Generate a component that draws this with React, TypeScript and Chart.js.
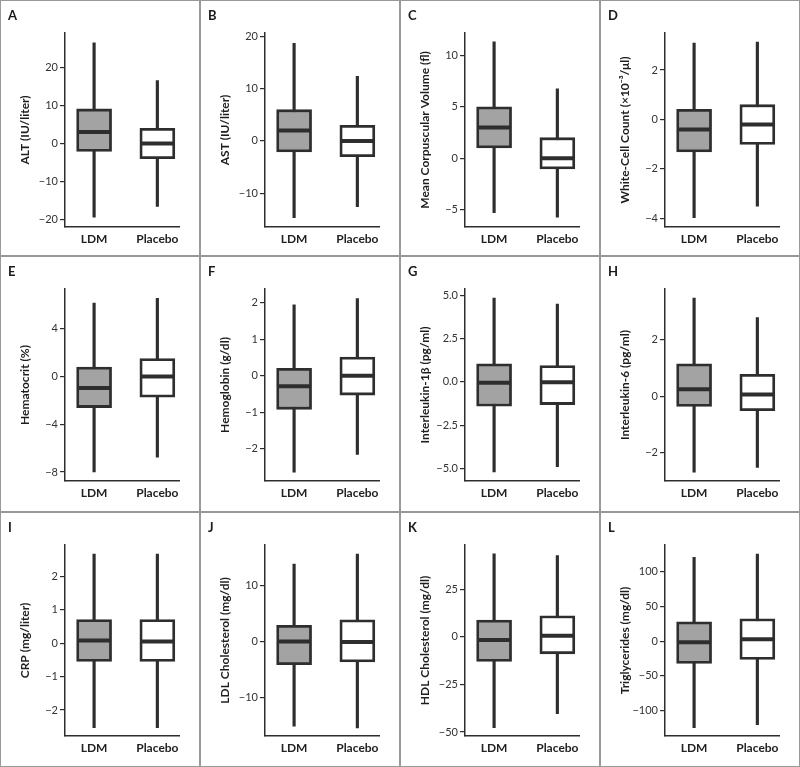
import React, { useEffect, useRef } from "react";
import { Chart, registerables } from "chart.js";

Chart.register(...registerables);

const FONT = "Lato, 'Open Sans', 'DejaVu Sans', sans-serif";
Chart.defaults.font.family = FONT;

const groups = ["LDM", "Placebo"];
const letters = ["A", "B", "C", "D", "E", "F", "G", "H", "I", "J", "K", "L"];
const yTitles = [
  "ALT (IU/liter)",
  "AST (IU/liter)",
  "Mean Corpuscular Volume (fl)",
  "White-Cell Count (×10⁻³/μl)",
  "Hematocrit (%)",
  "Hemoglobin (g/dl)",
  "Interleukin-1β (pg/ml)",
  "Interleukin-6 (pg/ml)",
  "CRP (mg/liter)",
  "LDL Cholesterol (mg/dl)",
  "HDL Cholesterol (mg/dl)",
  "Triglycerides (mg/dl)",
];

// LDM box-plot statistics, one value per panel (A..L)
const ldmMin = [-19.4, -14.7, -5.3, -3.97, -8.0, -2.64, -5.21, -2.69, -2.53, -15.05, -47.7, -124.5];
const ldmQ1 = [-2.1, -2.1, 1.0, -1.31, -2.6, -0.92, -1.41, -0.36, -0.55, -4.06, -13.0, -32.2];
const ldmMedian = [3.0, 2.0, 3.0, -0.4, -0.97, -0.29, -0.05, 0.25, 0.08, 0.05, -1.75, -1.5];
const ldmQ3 = [9.1, 6.0, 5.0, 0.41, 0.79, 0.2, 1.04, 1.15, 0.71, 2.95, 8.8, 27.8];
const ldmMax = [26.5, 18.7, 11.35, 3.09, 6.16, 1.94, 4.85, 3.48, 2.67, 13.9, 43.5, 120.5];

// Placebo box-plot statistics, one value per panel (A..L)
const placeboMin = [-16.6, -12.6, -5.75, -3.51, -6.76, -2.15, -4.9, -2.52, -2.53, -15.36, -40.4, -120.2];
const placeboQ1 = [-4.0, -3.0, -1.05, -1.01, -1.73, -0.53, -1.31, -0.51, -0.55, -3.58, -8.95, -26.5];
const placeboMedian = [0, 0, 0, -0.2, 0, 0, -0.02, 0.06, 0.05, 0, 0.53, 2.8];
const placeboQ3 = [4.0, 3.0, 2.0, 0.6, 1.51, 0.51, 0.94, 0.78, 0.71, 3.94, 11.05, 32.2];
const placeboMax = [16.6, 12.4, 6.75, 3.13, 6.54, 2.11, 4.5, 2.79, 2.67, 15.7, 42.6, 125.4];

// y-axis ranges per panel
const yMins = [-22, -16.5, -6.7, -4.35, -8.75, -2.88, -5.73, -3.0, -2.78, -16.8, -52.1, -136.5];
const yMaxs = [29.1, 20.7, 12.2, 3.5, 7.33, 2.37, 5.37, 3.8, 2.94, 17.3, 48.2, 138.3];

// y tick values per panel
const ticksA = [-20, -10, 0, 10, 20];
const ticksB = [-10, 0, 10, 20];
const ticksC = [-5, 0, 5, 10];
const ticksD = [-4, -2, 0, 2];
const ticksE = [-8, -4, 0, 4];
const ticksF = [-2, -1, 0, 1, 2];
const ticksG = [-5, -2.5, 0, 2.5, 5];
const ticksH = [-2, 0, 2];
const ticksI = [-2, -1, 0, 1, 2];
const ticksJ = [-10, 0, 10];
const ticksK = [-50, -25, 0, 25];
const ticksL = [-100, -50, 0, 50, 100];
const tickSets = [ticksA, ticksB, ticksC, ticksD, ticksE, ticksF, ticksG, ticksH, ticksI, ticksJ, ticksK, ticksL];
const tickDecimals = [0, 0, 0, 0, 0, 0, 1, 0, 0, 0, 0, 0];

const INK = "#2e2e2e";
const rowTops = [0, 256, 512];
const rowHeights = [256, 256, 255];
const xAxisHeights = [29, 31, 31];

function fmt(v: number, d: number) {
  return v.toFixed(d).replace("-", "\u2212");
}

function Panel({ i }: { i: number }) {
  const ref = useRef<HTMLCanvasElement>(null);
  const row = Math.floor(i / 4);
  const col = i % 4;
  const W = 200;
  const H = rowHeights[row];

  useEffect(() => {
    const canvas = ref.current!;
    const chart = new Chart(canvas, {
      type: "bar",
      data: {
        datasets: [
          {
            type: "scatter",
            data: [
              { x: 1, y: ldmMedian[i] },
              { x: 2, y: placeboMedian[i] },
            ],
            pointStyle: "line",
            pointRadius: 16.5,
            pointHoverRadius: 16.5,
            pointBorderWidth: 4,
            pointHoverBorderWidth: 4,
            pointBorderColor: INK,
            order: 0,
          } as any,
          {
            type: "bar",
            data: [
              { x: 1, y: [ldmQ1[i], ldmQ3[i]] },
              { x: 2, y: [placeboQ1[i], placeboQ3[i]] },
            ],
            backgroundColor: ["#a3a3a3", "#ffffff"],
            borderColor: INK,
            borderWidth: 2.8,
            borderSkipped: false,
            barThickness: 35,
            grouped: false,
            order: 1,
          } as any,
          {
            type: "bar",
            data: [
              { x: 1, y: [ldmMin[i], ldmMax[i]] },
              { x: 2, y: [placeboMin[i], placeboMax[i]] },
            ],
            backgroundColor: INK,
            borderWidth: 0,
            barThickness: 2.5,
            grouped: false,
            order: 2,
          } as any,
        ],
      },
      options: {
        responsive: false,
        animation: false,
        events: [],
        layout: { padding: { top: 33, right: 17, left: 0, bottom: 0 } },
        plugins: { legend: { display: false }, tooltip: { enabled: false } },
        scales: {
          x: {
            type: "linear",
            min: 0.54,
            max: 2.35,
            offset: false,
            grid: { display: false, drawTicks: false },
            border: { display: true, color: INK, width: 1.5 },
            ticks: {
              font: { size: 12, weight: "bold", family: FONT },
              color: "#222",
              padding: 5,
              maxRotation: 0,
              autoSkip: false,
              callback: (v: any) => groups[Math.round(v) - 1] ?? "",
            },
            afterBuildTicks: (s: any) => {
              s.ticks = [1, 2].map((v) => ({ value: v }));
            },
            afterFit: (s: any) => {
              s.height = xAxisHeights[row];
            },
          },
          y: {
            type: "linear",
            min: yMins[i],
            max: yMaxs[i],
            grid: { drawOnChartArea: false, drawTicks: true, tickLength: 5, color: INK, lineWidth: 1.2 },
            border: { display: true, color: INK, width: 1.5 },
            ticks: {
              font: { size: 11, family: FONT },
              color: "#333",
              padding: 2,
              autoSkip: false,
              callback: (v: any) => fmt(Number(v), tickDecimals[i]),
            },
            afterBuildTicks: (s: any) => {
              s.ticks = tickSets[i].map((v) => ({ value: v }));
            },
            afterFit: (s: any) => {
              s.width = 65;
            },
            title: {
              display: true,
              text: yTitles[i],
              color: "#1e1e1e",
              font: { size: 12, weight: "bold", family: FONT },
              padding: { top: 18, bottom: 0 },
            },
          },
        },
      } as any,
    });
    return () => chart.destroy();
  }, []);

  return (
    <div
      style={{
        position: "absolute",
        left: col * W,
        top: rowTops[row],
        width: W,
        height: H,
      }}
    >
      <canvas ref={ref} width={W} height={H} style={{ display: "block", width: W, height: H }} />
      <div
        style={{
          position: "absolute",
          left: 8,
          top: 9,
          fontFamily: FONT,
          fontWeight: 700,
          fontSize: 13,
          lineHeight: "13px",
          color: "#1a1a1a",
        }}
      >
        {letters[i]}
      </div>
      <div
        style={{
          position: "absolute",
          left: 0,
          top: 0,
          width: W,
          height: H,
          boxSizing: "border-box",
          border: "1px solid #999",
          pointerEvents: "none",
        }}
      />
    </div>
  );
}

export default function App() {
  return (
    <div
      style={{
        position: "absolute",
        left: 0,
        top: 0,
        width: 800,
        height: 767,
        background: "#fff",
        overflow: "hidden",
      }}
    >
      {letters.map((_, i) => (
        <Panel key={i} i={i} />
      ))}
    </div>
  );
}
